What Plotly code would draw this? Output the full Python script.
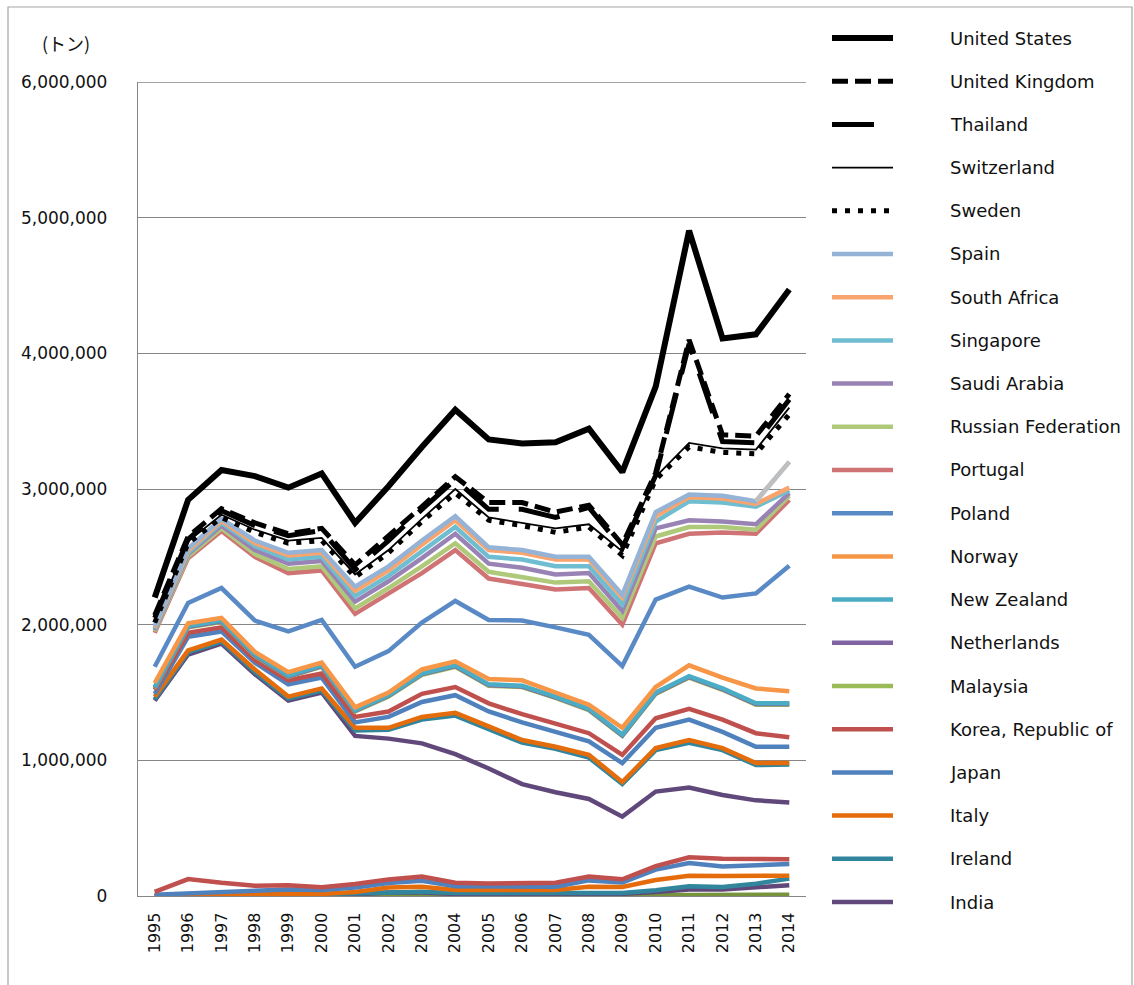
import plotly.graph_objects as go

years = list(range(1995, 2015))

# Stacked totals (thousand tonnes) read per line, top of the stack first
united_states = [2200, 2920, 3140, 3095, 3010, 3115, 2750, 3020, 3310, 3585, 3365, 3335, 3345, 3445, 3125, 3755, 4905, 4110, 4140, 4470]
united_kingdom = [2070, 2650, 2855, 2750, 2670, 2710, 2440, 2650, 2870, 3090, 2900, 2900, 2830, 2880, 2590, 3120, 4100, 3400, 3390, 3700]
thailand = [2050, 2630, 2840, 2730, 2655, 2695, 2405, 2620, 2850, 3070, 2850, 2850, 2790, 2865, 2565, 3100, 4070, 3350, 3340, 3660]
switzerland = [2030, 2615, 2810, 2700, 2620, 2640, 2370, 2550, 2780, 3000, 2790, 2750, 2710, 2740, 2540, 3090, 3340, 3300, 3290, 3600]
sweden = [2015, 2600, 2790, 2680, 2600, 2620, 2350, 2530, 2760, 2970, 2770, 2730, 2680, 2720, 2510, 3070, 3310, 3270, 3260, 3550]
spain = [1990, 2560, 2780, 2620, 2530, 2550, 2280, 2430, 2620, 2800, 2570, 2550, 2500, 2500, 2220, 2830, 2960, 2950, 2910, 3200]
south_africa = [1980, 2545, 2765, 2600, 2510, 2530, 2250, 2400, 2590, 2770, 2550, 2530, 2480, 2480, 2200, 2800, 2940, 2930, 2890, 3010]
singapore = [1970, 2530, 2750, 2580, 2480, 2500, 2210, 2360, 2540, 2720, 2500, 2480, 2430, 2430, 2150, 2760, 2910, 2900, 2870, 2990]
saudi_arabia = [1960, 2520, 2730, 2550, 2450, 2470, 2170, 2320, 2490, 2670, 2450, 2420, 2370, 2380, 2100, 2710, 2770, 2760, 2740, 2970]
russian_federation = [1950, 2505, 2710, 2520, 2410, 2430, 2120, 2270, 2430, 2600, 2390, 2350, 2310, 2320, 2050, 2650, 2720, 2720, 2700, 2950]
portugal = [1940, 2490, 2690, 2500, 2380, 2400, 2080, 2230, 2380, 2550, 2340, 2300, 2260, 2270, 2000, 2600, 2670, 2680, 2670, 2920]
poland = [1690, 2160, 2270, 2030, 1950, 2035, 1690, 1805, 2015, 2175, 2035, 2030, 1980, 1925, 1695, 2185, 2280, 2200, 2230, 2435]
norway = [1570, 2010, 2050, 1800, 1650, 1720, 1390, 1500, 1670, 1730, 1600, 1590, 1500, 1410, 1240, 1540, 1700, 1610, 1530, 1510]
new_zealand = [1540, 1990, 2030, 1780, 1625, 1700, 1370, 1480, 1640, 1700, 1560, 1550, 1470, 1380, 1190, 1500, 1620, 1530, 1420, 1420]
netherlands = [1535, 1985, 2025, 1775, 1620, 1695, 1365, 1475, 1635, 1695, 1555, 1545, 1465, 1375, 1185, 1495, 1615, 1525, 1415, 1415]
malaysia = [1530, 1980, 2020, 1770, 1615, 1690, 1360, 1470, 1630, 1690, 1550, 1540, 1460, 1370, 1180, 1490, 1610, 1520, 1410, 1410]
korea = [1520, 1940, 1980, 1740, 1590, 1640, 1320, 1360, 1490, 1540, 1420, 1340, 1270, 1200, 1040, 1310, 1380, 1300, 1200, 1170]
japan = [1490, 1910, 1950, 1720, 1560, 1610, 1280, 1320, 1430, 1480, 1360, 1280, 1210, 1140, 980, 1240, 1300, 1210, 1100, 1100]
italy = [1470, 1810, 1890, 1670, 1470, 1530, 1240, 1240, 1320, 1350, 1250, 1150, 1100, 1040, 840, 1090, 1150, 1090, 980, 980]
ireland = [1450, 1795, 1875, 1650, 1455, 1515, 1220, 1225, 1300, 1330, 1230, 1130, 1085, 1020, 825, 1075, 1130, 1075, 965, 970]
india = [1440, 1780, 1860, 1635, 1440, 1500, 1180, 1160, 1125, 1045, 940, 825, 765, 715, 585, 770, 800, 745, 705, 690]

# Remaining countries at the bottom of the stack (not listed in the legend)
other_1 = [30, 125, 97, 75, 80, 65, 88, 122, 143, 98, 93, 97, 98, 143, 123, 220, 285, 275, 270, 270]
other_2 = [10, 20, 28, 38, 48, 44, 62, 95, 113, 72, 68, 70, 68, 115, 100, 195, 243, 218, 224, 236]
other_3 = [3, 8, 10, 14, 18, 15, 30, 62, 68, 45, 44, 44, 44, 68, 66, 118, 150, 148, 148, 150]
other_4 = [2, 6, 9, 12, 15, 13, 20, 30, 32, 22, 20, 20, 20, 22, 22, 42, 72, 66, 90, 128]
other_5 = [1, 3, 5, 7, 9, 8, 12, 25, 26, 15, 13, 13, 13, 16, 16, 30, 48, 48, 62, 80]
other_6 = [0, 1, 1, 2, 2, 2, 3, 4, 5, 4, 4, 4, 4, 5, 5, 6, 8, 8, 8, 9]

# name, values, colour, width, dash  (legend order)
series = [
    ("United States", united_states, "#000000", 6, "solid"),
    ("United Kingdom", united_kingdom, "#000000", 5, "16px,7px"),
    ("Thailand", thailand, "#000000", 5, "42px,20px"),
    ("Switzerland", switzerland, "#000000", 1.8, "solid"),
    ("Sweden", sweden, "#000000", 5, "5px,8px"),
    ("Spain", spain, "#95B3D7", 4.5, "solid"),
    ("South Africa", south_africa, "#F8A46C", 4.5, "solid"),
    ("Singapore", singapore, "#6FBDD1", 4.5, "solid"),
    ("Saudi Arabia", saudi_arabia, "#9983B5", 4.5, "solid"),
    ("Russian Federation", russian_federation, "#AFC97A", 4.5, "solid"),
    ("Portugal", portugal, "#D07374", 4.5, "solid"),
    ("Poland", poland, "#5A8AC6", 4.5, "solid"),
    ("Norway", norway, "#F79646", 4.5, "solid"),
    ("New Zealand", new_zealand, "#4BACC6", 4.5, "solid"),
    ("Netherlands", netherlands, "#8064A2", 4.5, "solid"),
    ("Malaysia", malaysia, "#9BBB59", 4.5, "solid"),
    ("Korea, Republic of", korea, "#C0504D", 4.5, "solid"),
    ("Japan", japan, "#4F81BD", 4.5, "solid"),
    ("Italy", italy, "#E46C0A", 4.5, "solid"),
    ("Ireland", ireland, "#31859C", 4.5, "solid"),
    ("India", india, "#60497A", 4.5, "solid"),
]

# bottom of the stack first
others = [
    (other_6, "#77933C"),
    (other_5, "#60497A"),
    (other_4, "#31859C"),
    (other_3, "#E46C0A"),
    (other_2, "#4F81BD"),
    (other_1, "#C0504D"),
]

Y_MAX = 6000000


def tonnes(vals):
    return [v * 1000 for v in vals]


fig = go.Figure()

for vals, color in others:
    fig.add_trace(go.Scatter(
        x=years, y=tonnes(vals), mode="lines", showlegend=False,
        line=dict(color=color, width=4.5), hoverinfo="skip",
    ))

for name, vals, color, width, dash in reversed(series):
    fig.add_trace(go.Scatter(
        x=years, y=tonnes(vals), mode="lines", name=name, showlegend=False,
        line=dict(color=color, width=width, dash=dash),
    ))
    if name == "Spain":
        # last segment of this line is shown in grey
        fig.add_trace(go.Scatter(
            x=years[-2:], y=tonnes(vals[-2:]), mode="lines", showlegend=False,
            line=dict(color="#BFBFBF", width=width), hoverinfo="skip",
        ))

# ---- page geometry (pixels) ----
W, H = 1134, 985
L, R, T, B = 138, 328, 82, 89
PW, PH = W - L - R, H - T - B


def px(x):
    return (x - L) / PW


def py(y):
    return (H - B - y) / PH


shapes = []
annotations = []

# gridline at the top of the value axis
shapes.append(dict(
    type="line", xref="paper", yref="y", x0=0, x1=1, y0=Y_MAX, y1=Y_MAX,
    line=dict(color="#868686", width=1.3), layer="below",
))

# legend drawn beside the plot
row0, row_gap = 38, 43.2
for i, (name, vals, color, width, dash) in enumerate(series):
    yy = py(row0 + i * row_gap)
    shapes.append(dict(
        type="line", xref="paper", yref="paper",
        x0=px(832), x1=px(893), y0=yy, y1=yy,
        line=dict(color=color, width=width, dash=dash),
    ))
    annotations.append(dict(
        xref="paper", yref="paper", x=px(948), y=yy, text=name,
        showarrow=False, xanchor="left", yanchor="middle",
        font=dict(family="DejaVu Sans", size=18, color="#111111"),
    ))

# unit label
annotations.append(dict(
    xref="paper", yref="paper", x=px(66), y=py(43), text="(トン)",
    showarrow=False, xanchor="center", yanchor="middle",
    font=dict(family="Noto Sans CJK JP", size=18, color="#111111"),
))

# outer frame
shapes.append(dict(
    type="rect", xref="paper", yref="paper",
    x0=px(8), x1=px(1132), y0=py(992), y1=py(7),
    line=dict(color="#A6A6A6", width=1.2), fillcolor="rgba(0,0,0,0)",
))

fig.update_layout(
    width=W, height=H,
    margin=dict(l=L, r=R, t=T, b=B),
    paper_bgcolor="white", plot_bgcolor="white",
    showlegend=False,
    shapes=shapes, annotations=annotations,
    xaxis=dict(
        range=[1994.5, 2014.5], tickmode="array", tickvals=years,
        ticktext=[str(y) for y in years], tickangle=-90,
        showgrid=False, zeroline=False, showline=True,
        linecolor="#868686", linewidth=1.3, ticks="",
        ticklabelstandoff=9,
        tickfont=dict(family="DejaVu Sans", size=16, color="#111111"),
    ),
    yaxis=dict(
        range=[0, Y_MAX], dtick=1000000, tickformat=",d",
        showgrid=True, gridcolor="#868686", gridwidth=1.3,
        zeroline=False, showline=True, linecolor="#868686", linewidth=1.3,
        ticks="", ticklabelstandoff=26,
        tickfont=dict(family="DejaVu Sans", size=17, color="#111111"),
    ),
)

fig.write_html("out.html")
